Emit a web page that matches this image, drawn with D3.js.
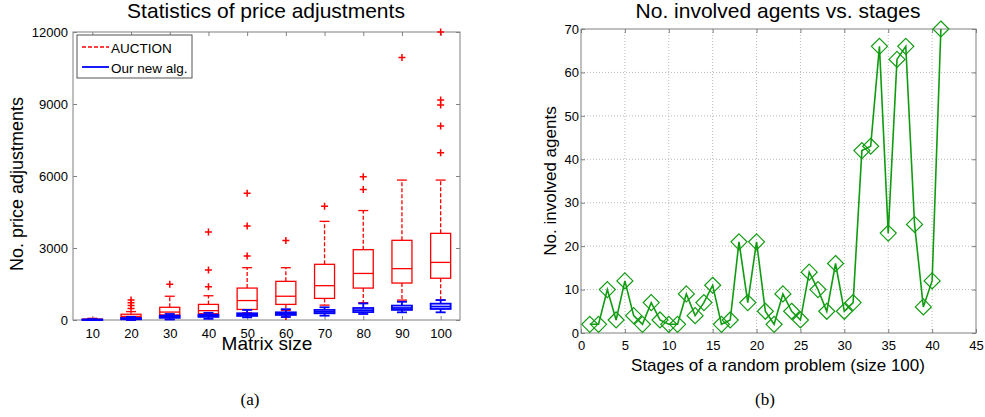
<!DOCTYPE html>
<html>
<head>
<meta charset="utf-8">
<script src="https://cdn.jsdelivr.net/npm/d3@7"></script>
<style>
  body { margin: 0; background: #fff; }
  svg { font-family: "Liberation Sans", Arial, sans-serif; }
  .axis text { font-size: 13px; fill: #000; }
  .axis line { stroke: #808080; }
  .axis path { display: none; }
</style>
</head>
<body>
<svg id="chart"></svg>
<script>
// ---- (a) box plots: price adjustments per matrix size ----
const sizes = [10, 20, 30, 40, 50, 60, 70, 80, 90, 100];

const auctionLo  = [0, 0, 30, 170, 300, 400, 620, 720, 830, 830];
const auctionQ1  = [10, 90, 210, 260, 440, 650, 900, 1330, 1540, 1740];
const auctionMed = [20, 150, 330, 390, 810, 990, 1430, 1940, 2140, 2400];
const auctionQ3  = [35, 240, 530, 650, 1330, 1610, 2320, 2930, 3320, 3610];
const auctionHi  = [70, 350, 990, 1010, 2180, 2180, 4110, 4560, 5830, 5830];
const auctionOut = [[], [480, 600, 720, 830], [1490], [1390, 2080, 3670], [2670, 3920, 5280],
                    [150, 3310], [4740], [5440, 5970], [10940], [6970, 8080, 8960, 9170, 12000]];

const newLo  = [0, 0, 20, 50, 110, 125, 180, 250, 320, 320];
const newQ1  = [5, 30, 90, 130, 170, 210, 280, 330, 420, 460];
const newMed = [10, 50, 130, 170, 220, 260, 340, 410, 500, 560];
const newQ3  = [20, 80, 180, 220, 280, 320, 420, 500, 600, 680];
const newHi  = [30, 130, 250, 300, 420, 450, 530, 690, 760, 830];
const newOut = [[], [], [], [], [], [], [], [], [], []];

const priceTicks = [0, 3000, 6000, 9000, 12000];

// ---- (b) involved agents per stage ----
const stages = d3.range(1, 42);
const agents = [2, 2, 10, 3, 12, 4, 2, 7, 3, 2, 2, 9, 4, 7, 11, 2, 3, 21, 7, 21, 5,
                2, 9, 5, 3, 14, 10, 5, 16, 5, 7, 42, 43, 66, 23, 63, 66, 25, 6, 12, 70];
const stageTicks = d3.range(0, 50, 5);
const agentTicks = d3.range(0, 80, 10);

const svg = d3.select('#chart').attr('width', 985).attr('height', 417);
svg.append('rect').attr('width', 985).attr('height', 417).attr('fill', '#fff');

const frame = '#808080';
const fmt = d3.format('d');

// ================= chart (a) =================
const A = {left: 73, right: 460, top: 32, bottom: 320};

const xA = d3.scalePoint().domain(sizes).range([A.left, A.right]).padding(0.5);
const yA = d3.scaleLinear().domain([0, 12000]).range([A.bottom, A.top]);

const gA = svg.append('g');

gA.append('g').attr('class', 'axis')
  .attr('transform', `translate(0,${A.bottom})`)
  .call(d3.axisBottom(xA).tickSize(-4).tickPadding(9));
gA.append('g').attr('class', 'axis')
  .attr('transform', `translate(0,${A.top})`)
  .call(d3.axisTop(xA).tickSize(-4).tickFormat(''));
gA.append('g').attr('class', 'axis')
  .attr('transform', `translate(${A.left},0)`)
  .call(d3.axisLeft(yA).tickValues(priceTicks).tickFormat(fmt).tickSize(-4).tickPadding(5));
gA.append('g').attr('class', 'axis')
  .attr('transform', `translate(${A.right},0)`)
  .call(d3.axisRight(yA).tickValues(priceTicks).tickSize(-4).tickFormat(''));

gA.append('rect')
  .attr('x', A.left).attr('y', A.top)
  .attr('width', A.right - A.left).attr('height', A.bottom - A.top)
  .attr('fill', 'none').attr('stroke', frame);

const boxW = 20, capW = 10;

function drawBoxes(color, lo, q1, med, q3, hi, out, lw, dashed) {
  const g = gA.append('g').attr('stroke', color).attr('fill', 'none').attr('stroke-width', lw);
  sizes.forEach((s, i) => {
    const cx = xA(s);
    // whiskers
    g.append('line').attr('x1', cx).attr('x2', cx).attr('y1', yA(q3[i])).attr('y2', yA(hi[i]))
      .attr('stroke-dasharray', dashed ? '4,2' : null);
    g.append('line').attr('x1', cx).attr('x2', cx).attr('y1', yA(q1[i])).attr('y2', yA(lo[i]))
      .attr('stroke-dasharray', dashed ? '4,2' : null);
    // caps
    g.append('line').attr('x1', cx - capW / 2).attr('x2', cx + capW / 2)
      .attr('y1', yA(hi[i])).attr('y2', yA(hi[i]));
    g.append('line').attr('x1', cx - capW / 2).attr('x2', cx + capW / 2)
      .attr('y1', yA(lo[i])).attr('y2', yA(lo[i]));
    // box + median
    g.append('rect').attr('x', cx - boxW / 2).attr('width', boxW)
      .attr('y', yA(q3[i])).attr('height', Math.max(yA(q1[i]) - yA(q3[i]), 0.5));
    g.append('line').attr('x1', cx - boxW / 2).attr('x2', cx + boxW / 2)
      .attr('y1', yA(med[i])).attr('y2', yA(med[i]));
    // outliers
    out[i].forEach(v => {
      const y = yA(v);
      g.append('path').attr('d', `M${cx - 3.5},${y}H${cx + 3.5}M${cx},${y - 3.5}V${y + 3.5}`)
        .attr('stroke-width', 1.5);
    });
  });
}

drawBoxes('#ff0000', auctionLo, auctionQ1, auctionMed, auctionQ3, auctionHi, auctionOut, 1.3, true);
drawBoxes('#0000ff', newLo, newQ1, newMed, newQ3, newHi, newOut, 1.8, false);

// legend
const leg = gA.append('g');
leg.append('rect').attr('x', 77).attr('y', 35).attr('width', 115).attr('height', 43)
  .attr('fill', '#fff').attr('stroke', '#555');
leg.append('line').attr('x1', 82).attr('x2', 109).attr('y1', 47).attr('y2', 47)
  .attr('stroke', '#ff0000').attr('stroke-width', 1.3).attr('stroke-dasharray', '4,2');
leg.append('line').attr('x1', 82).attr('x2', 109).attr('y1', 67).attr('y2', 67)
  .attr('stroke', '#0000ff').attr('stroke-width', 1.8);
leg.append('text').attr('x', 111).attr('y', 52.5).attr('font-size', 13.5).text('AUCTION');
leg.append('text').attr('x', 111).attr('y', 72.5).attr('font-size', 13.5).text('Our new alg.');

gA.append('text').attr('x', 266).attr('y', 18).attr('text-anchor', 'middle')
  .attr('font-size', 21).text('Statistics of price adjustments');
gA.append('text').attr('x', 267).attr('y', 350).attr('text-anchor', 'middle')
  .attr('font-size', 19).text('Matrix size');
gA.append('text').attr('transform', 'translate(23,184) rotate(-90)').attr('text-anchor', 'middle')
  .attr('font-size', 18).text('No. price adjustments');
gA.append('text').attr('x', 250).attr('y', 405).attr('text-anchor', 'middle')
  .attr('font-family', '"Liberation Serif", "Times New Roman", serif')
  .attr('font-size', 17).text('(a)');

// ================= chart (b) =================
const B = {left: 581, right: 976, top: 29, bottom: 333};

const xB = d3.scaleLinear().domain([0, 45]).range([B.left, B.right]);
const yB = d3.scaleLinear().domain([0, 70]).range([B.bottom, B.top]);

const gB = svg.append('g');

// dotted grid
gB.append('g').selectAll('line').data(stageTicks.slice(1, -1)).join('line')
  .attr('x1', d => xB(d)).attr('x2', d => xB(d)).attr('y1', B.top).attr('y2', B.bottom)
  .attr('stroke', '#bbb').attr('stroke-dasharray', '1,2');
gB.append('g').selectAll('line').data(agentTicks.slice(1, -1)).join('line')
  .attr('x1', B.left).attr('x2', B.right).attr('y1', d => yB(d)).attr('y2', d => yB(d))
  .attr('stroke', '#bbb').attr('stroke-dasharray', '1,2');

gB.append('g').attr('class', 'axis')
  .attr('transform', `translate(0,${B.bottom})`)
  .call(d3.axisBottom(xB).tickValues(stageTicks).tickFormat(fmt).tickSize(-4).tickPadding(8));
gB.append('g').attr('class', 'axis')
  .attr('transform', `translate(0,${B.top})`)
  .call(d3.axisTop(xB).tickValues(stageTicks).tickSize(-4).tickFormat(''));
gB.append('g').attr('class', 'axis')
  .attr('transform', `translate(${B.left},0)`)
  .call(d3.axisLeft(yB).tickValues(agentTicks).tickFormat(fmt).tickSize(-4).tickPadding(2));
gB.append('g').attr('class', 'axis')
  .attr('transform', `translate(${B.right},0)`)
  .call(d3.axisRight(yB).tickValues(agentTicks).tickSize(-4).tickFormat(''));

gB.append('rect')
  .attr('x', B.left).attr('y', B.top)
  .attr('width', B.right - B.left).attr('height', B.bottom - B.top)
  .attr('fill', 'none').attr('stroke', frame);

const green = '#109c10';
const line = d3.line().x((d, i) => xB(stages[i])).y(d => yB(d));
gB.append('path').datum(agents).attr('d', line)
  .attr('fill', 'none').attr('stroke', green).attr('stroke-width', 1.6);

gB.append('g').selectAll('path').data(agents).join('path')
  .attr('transform', (d, i) => `translate(${xB(stages[i])},${yB(d)})`)
  .attr('d', 'M0,-8L8,0L0,8L-8,0Z')
  .attr('fill', 'none').attr('stroke', green).attr('stroke-width', 1.2);

gB.append('text').attr('x', 778).attr('y', 18).attr('text-anchor', 'middle')
  .attr('font-size', 21).text('No. involved agents vs. stages');
gB.append('text').attr('x', 778).attr('y', 371).attr('text-anchor', 'middle')
  .attr('font-size', 17).text('Stages of a random problem (size 100)');
gB.append('text').attr('transform', 'translate(556,181) rotate(-90)').attr('text-anchor', 'middle')
  .attr('font-size', 17).text('No. involved agents');
gB.append('text').attr('x', 765).attr('y', 405).attr('text-anchor', 'middle')
  .attr('font-family', '"Liberation Serif", "Times New Roman", serif')
  .attr('font-size', 17).text('(b)');
</script>
</body>
</html>
